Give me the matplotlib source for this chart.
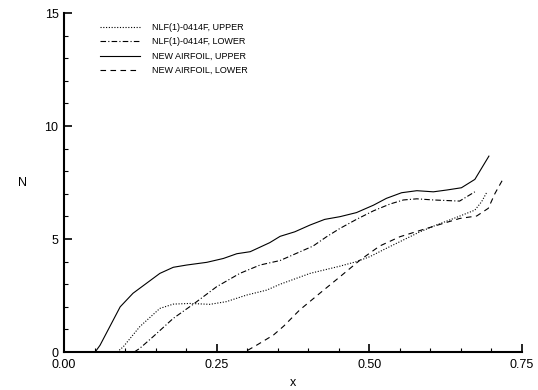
import matplotlib.pyplot as plt
from matplotlib.ticker import MultipleLocator

plt.rcParams["font.family"] = ["Liberation Sans", "DejaVu Sans"]

# NLF(1)-0414F, upper surface
nlf_up_x = [0.087, 0.097, 0.124, 0.157, 0.179, 0.206, 0.239, 0.266, 0.299, 0.332, 0.354,
            0.403, 0.452, 0.479, 0.501, 0.528, 0.556, 0.583, 0.610, 0.643, 0.673, 0.684, 0.693]
nlf_up_n = [0.0, 0.23, 1.12, 1.93, 2.12, 2.15, 2.11, 2.23, 2.52, 2.74, 3.0,
            3.48, 3.80, 4.0, 4.22, 4.59, 4.96, 5.32, 5.62, 5.96, 6.28, 6.65, 7.09]

# NLF(1)-0414F, lower surface
nlf_lo_x = [0.115, 0.124, 0.146, 0.179, 0.212, 0.250, 0.288, 0.321, 0.354, 0.381, 0.408,
            0.430, 0.452, 0.479, 0.507, 0.534, 0.556, 0.578, 0.605, 0.648, 0.673]
nlf_lo_n = [0.0, 0.16, 0.68, 1.49, 2.12, 2.89, 3.48, 3.85, 4.05, 4.37, 4.69,
            5.10, 5.47, 5.87, 6.25, 6.55, 6.73, 6.78, 6.73, 6.68, 7.09]

# new airfoil, upper surface
new_up_x = [0.051, 0.059, 0.092, 0.113, 0.157, 0.179, 0.201, 0.234, 0.261, 0.283, 0.305,
            0.337, 0.354, 0.378, 0.403, 0.427, 0.452, 0.479, 0.507, 0.528, 0.553, 0.578,
            0.605, 0.627, 0.651, 0.673, 0.696]
new_up_n = [0.0, 0.3, 2.0, 2.6, 3.48, 3.75, 3.85, 3.97, 4.14, 4.35, 4.44,
            4.84, 5.12, 5.32, 5.62, 5.87, 5.99, 6.17, 6.5, 6.8, 7.05, 7.14,
            7.09, 7.17, 7.27, 7.64, 8.67]

# new airfoil, lower surface
new_lo_x = [0.285, 0.296, 0.316, 0.343, 0.360, 0.386, 0.419, 0.452, 0.485, 0.517, 0.550,
            0.588, 0.621, 0.648, 0.676, 0.695, 0.706, 0.718]
new_lo_n = [0.0, 0.0, 0.31, 0.75, 1.15, 1.86, 2.6, 3.33, 4.07, 4.69, 5.1,
            5.42, 5.69, 5.91, 6.02, 6.36, 7.02, 7.6]

fig = plt.figure(figsize=(5.38, 3.9), dpi=100, facecolor="white")
ax = fig.add_axes([0.119, 0.0974, 0.851, 0.869])

lw = 0.8
ax.plot(nlf_up_x, nlf_up_n, color="black", lw=lw, linestyle=(0, (1, 1.5)), label="NLF(1)-0414F, UPPER")
ax.plot(nlf_lo_x, nlf_lo_n, color="black", lw=lw, linestyle=(0, (5, 2, 1, 2)), label="NLF(1)-0414F, LOWER")
ax.plot(new_up_x, new_up_n, color="black", lw=lw, linestyle="-", label="NEW AIRFOIL, UPPER")
ax.plot(new_lo_x, new_lo_n, color="black", lw=lw, linestyle=(0, (5, 4)), label="NEW AIRFOIL, LOWER")

ax.set_xlim(0, 0.75)
ax.set_ylim(0, 15)
ax.xaxis.set_major_locator(MultipleLocator(0.25))
ax.xaxis.set_minor_locator(MultipleLocator(0.05))
ax.yaxis.set_major_locator(MultipleLocator(5))
ax.yaxis.set_minor_locator(MultipleLocator(1))
ax.set_xticks([0, 0.25, 0.5, 0.75])
ax.set_xticklabels(["0.00", "0.25", "0.50", "0.75"])

for side in ["top", "right"]:
    ax.spines[side].set_visible(False)
for side in ["left", "bottom"]:
    ax.spines[side].set_linewidth(1.5)

ax.tick_params(which="major", direction="in", length=6, width=1.2, labelsize=9)
ax.tick_params(axis="y", which="major", pad=4)
ax.tick_params(axis="x", which="major", pad=5)
ax.tick_params(which="minor", direction="in", length=3, width=0.8)

ax.set_xlabel("x", fontsize=9, labelpad=4)
ax.set_ylabel("N", fontsize=9, rotation=0, labelpad=16, va="center")

ax.legend(loc="upper left", bbox_to_anchor=(0.06, 0.995), frameon=False, fontsize=6.5,
          handlelength=4.5, handletextpad=1.3, labelspacing=0.6)

fig.savefig("out.png", dpi=100, facecolor="white")
